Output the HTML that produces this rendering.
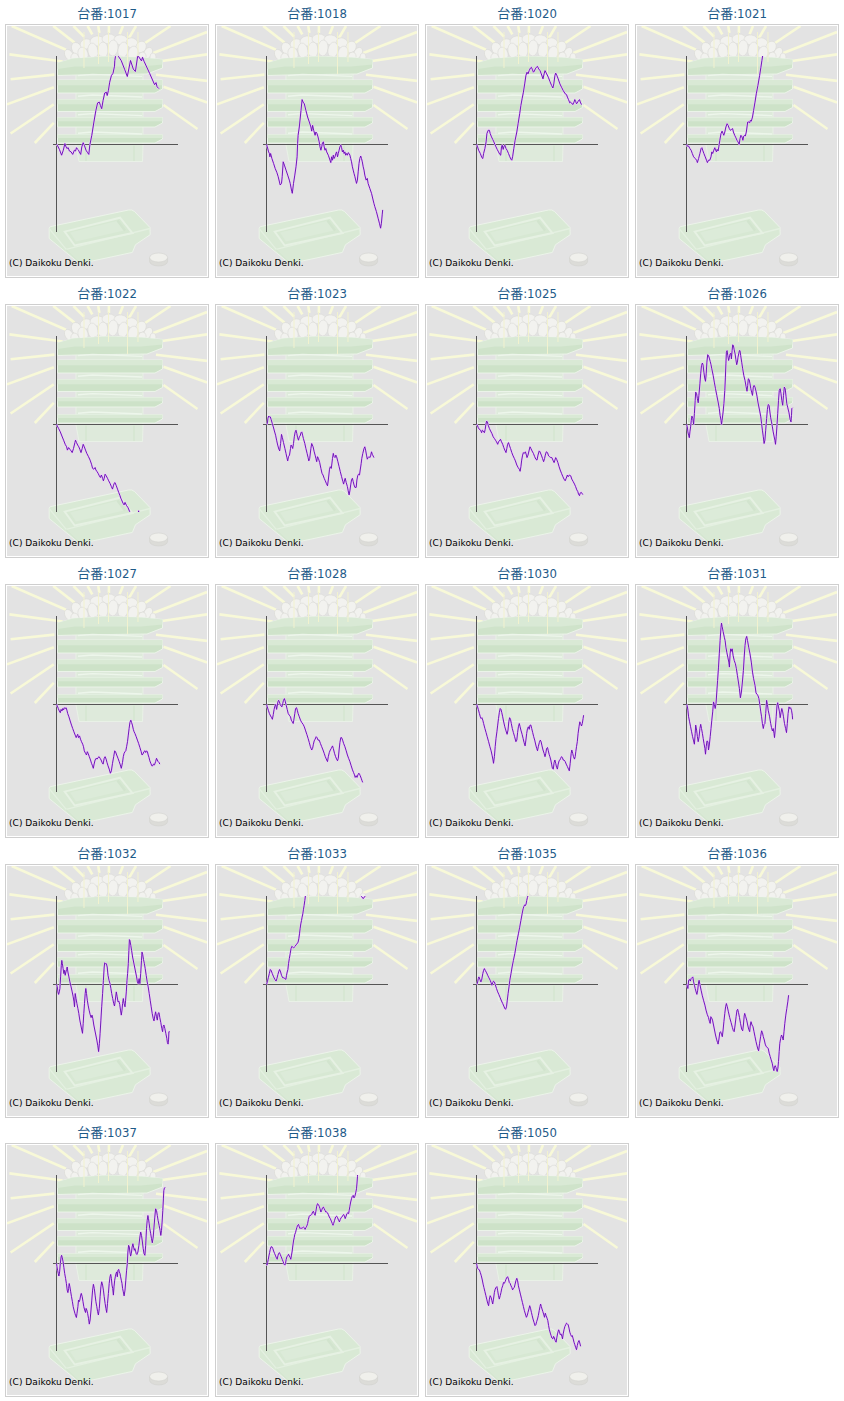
<!DOCTYPE html>
<html><head><meta charset="utf-8"><style>
html,body{margin:0;padding:0;background:#fff;}
body{width:844px;height:1401px;position:relative;overflow:hidden;}
.t{position:absolute;width:210px;text-align:center;font:13px "DejaVu Sans Condensed","Noto Sans CJK JP",sans-serif;color:#1d5a88;line-height:16px;}
.b{position:absolute;width:200px;height:250px;border:1px solid #cfcfcf;padding:1px;background:#fff;}
.b svg{display:block;}
.b polyline{fill:none;stroke-linejoin:round;} .b .l1{stroke:#f0c4ff;stroke-width:1.8;} .b .l2{stroke:#6612b0;stroke-width:0.95;}
.c{position:absolute;left:3px;top:233px;letter-spacing:0.05px;font:9px "DejaVu Sans",sans-serif;color:#000;white-space:nowrap;}
</style></head><body>
<svg width="0" height="0" style="position:absolute"><defs><symbol id="bg" viewBox="0 0 200 250"><rect width="200" height="250" fill="#e3e3e3"/><g stroke="#f8f9d8" stroke-width="2.6" fill="none"><line x1="4.7" y1="0" x2="59" y2="23.7"/><line x1="2.4" y1="28.4" x2="55.7" y2="35.5"/><line x1="3.6" y1="53.3" x2="47.4" y2="48.6"/><line x1="0" y1="78.4" x2="46.8" y2="61.3"/><line x1="3.6" y1="107.5" x2="46.8" y2="78.4"/><line x1="27.8" y1="117" x2="46.8" y2="96.8"/><line x1="46.2" y1="0" x2="67.5" y2="16.6"/><line x1="66.4" y1="0" x2="77" y2="10.7"/><line x1="80.6" y1="0" x2="85.3" y2="8.3"/><line x1="91.2" y1="0" x2="92.4" y2="7"/><line x1="101.9" y1="0" x2="101.9" y2="7"/><line x1="116" y1="0" x2="112.6" y2="8.3"/><line x1="129" y1="0" x2="122" y2="11.8"/><line x1="163.5" y1="0" x2="135" y2="19"/><line x1="200" y1="6" x2="145.7" y2="27.3"/><line x1="200" y1="28.4" x2="151.7" y2="35.5"/><line x1="200" y1="54.9" x2="149" y2="48.7"/><line x1="200" y1="76.5" x2="156.5" y2="60.7"/><line x1="190.5" y1="103" x2="156.5" y2="79"/></g><g fill="#f2f2ef" stroke="#d9d9d5" stroke-width="0.55"><ellipse cx="62" cy="29" rx="4" ry="6" transform="rotate(-30 62 29)"/><ellipse cx="70" cy="23" rx="5" ry="7" transform="rotate(-30 70 23)"/><ellipse cx="79" cy="18" rx="6" ry="5" transform="rotate(-20 79 18)"/><ellipse cx="90" cy="15" rx="7" ry="5" transform="rotate(-10 90 15)"/><ellipse cx="102" cy="13" rx="7" ry="5" transform="rotate(0 102 13)"/><ellipse cx="114" cy="14" rx="7" ry="5" transform="rotate(10 114 14)"/><ellipse cx="125" cy="17" rx="6" ry="5" transform="rotate(20 125 17)"/><ellipse cx="134" cy="21" rx="5" ry="6" transform="rotate(30 134 21)"/><ellipse cx="141" cy="27" rx="4" ry="6" transform="rotate(30 141 27)"/><ellipse cx="146" cy="31" rx="3" ry="4" transform="rotate(0 146 31)"/><ellipse cx="68" cy="32" rx="4" ry="5" transform="rotate(-20 68 32)"/><ellipse cx="76" cy="28" rx="5" ry="7" transform="rotate(-15 76 28)"/><ellipse cx="86" cy="25" rx="5" ry="8" transform="rotate(-10 86 25)"/><ellipse cx="96" cy="24" rx="5" ry="8" transform="rotate(0 96 24)"/><ellipse cx="106" cy="22" rx="5" ry="8" transform="rotate(5 106 22)"/><ellipse cx="116" cy="24" rx="5" ry="8" transform="rotate(10 116 24)"/><ellipse cx="126" cy="27" rx="5" ry="7" transform="rotate(15 126 27)"/><ellipse cx="135" cy="31" rx="4" ry="5" transform="rotate(20 135 31)"/><ellipse cx="92" cy="33" rx="6" ry="3" transform="rotate(0 92 33)"/><ellipse cx="112" cy="33" rx="6" ry="3" transform="rotate(0 112 33)"/></g><path d="M69 36 L136 36 L136 119 L135.5 135.5 L72 135.5 L69 119 Z" fill="#deeadb" stroke="#ebf4e9" stroke-width="0.8"/><path d="M79 119.5 V135 M127 119.5 V135" stroke="#d7e7d3" stroke-width="2"/><path d="M50.5 37 L66 32.5 L100 30.5 L134 31.5 L155.5 33.5 L155.5 42 L140 48 L68 49 L50.5 49.5 Z" fill="#cfe3ca" stroke="#edf5eb" stroke-width="0.9"/><path d="M50.5 37 L66 32.5 L100 30.5 L134 31.5 L155.5 33.5 L155.5 38.5 L134 40.5 L68 40.5 L50.5 43 Z" fill="#d9e9d5"/><path d="M50.5 54 L155.5 54 L155.5 63 L148 67 L50.5 67 Z" fill="#cde2c8" stroke="#edf5eb" stroke-width="0.9"/><path d="M50.5 54 H155.5 V59.2 H50.5 Z" fill="#d9e9d5"/><path d="M50.5 73.5 L155.5 73.5 L155.5 81.5 L148 85.5 L50.5 85.5 Z" fill="#cde2c8" stroke="#edf5eb" stroke-width="0.9"/><path d="M50.5 73.5 H155.5 V78.3 H50.5 Z" fill="#d9e9d5"/><path d="M50.5 91.5 L155.5 91.5 L155.5 97 L148 101 L50.5 101 Z" fill="#cde2c8" stroke="#edf5eb" stroke-width="0.9"/><path d="M50.5 91.5 H155.5 V95.3 H50.5 Z" fill="#d9e9d5"/><path d="M50.5 108.8 L155.5 108.8 L155.5 113 L148 117 L50.5 117 Z" fill="#cde2c8" stroke="#edf5eb" stroke-width="0.9"/><path d="M50.5 108.8 H155.5 V112.1 H50.5 Z" fill="#d9e9d5"/><path d="M71 49.6 L85.5 48.4 L135 50.4" stroke="#edf6eb" stroke-width="1.4" fill="none"/><path d="M71 70.2 L85.5 69.0 L135 71.0" stroke="#edf6eb" stroke-width="1.4" fill="none"/><path d="M71 88.8 L85.5 87.6 L135 89.6" stroke="#edf6eb" stroke-width="1.4" fill="none"/><path d="M71 107.2 L85.5 106.0 L135 108.0" stroke="#edf6eb" stroke-width="1.4" fill="none"/><g stroke="#f2f2cf" stroke-width="1"><line x1="77" y1="6" x2="77" y2="42"/><line x1="91.5" y1="6" x2="91.5" y2="38"/><line x1="101.5" y1="6" x2="101.5" y2="36"/><line x1="120.5" y1="6" x2="120.5" y2="48"/><line x1="131" y1="6" x2="131" y2="36"/></g><path d="M42.2 202.5 Q42 201 44 200.5 L121.5 184 Q125 183.2 127.5 185.5 L143 201.5 L143.2 208.7 L128.5 218.7 L125.4 226.4 L75 237.2 Q72 237.8 70 235.5 L42.2 212.5 Z" fill="#d9e9d5" stroke="#edf5eb" stroke-width="0.9"/><path d="M42.5 203 L59.2 223.3 L143 202.5" stroke="#e4f0e1" stroke-width="1.3" fill="none"/><path d="M59.2 223.8 L73 237" stroke="#d3e5cf" stroke-width="1" fill="none"/><path d="M57.7 205.6 L113.1 191.7 L125.4 207.1 L67.7 219.5 Z" fill="#d7e8d3" stroke="#e6f1e3" stroke-width="2"/><path d="M63 206.5 L110 195 L117 204.5 L69 215.5 Z" fill="#dcebd9"/><path d="M110.5 194.5 L118 204.5" stroke="#d2e4ce" stroke-width="2.5"/><path d="M142.6 231.5 L142.6 235.5 A9 4.5 0 0 0 160.6 235.5 L160.6 231.5 Z" fill="#dcdcd8" stroke="#d2d2ce" stroke-width="0.6"/><ellipse cx="151.6" cy="231.5" rx="9" ry="4.5" fill="#f0f0ec" stroke="#d2d2ce" stroke-width="0.6"/><path d="M49.5 30 V206 M46 118.5 H171" stroke="#555" stroke-width="1" fill="none"/></symbol><clipPath id="cp"><rect x="0" y="30" width="200" height="176"/></clipPath></defs></svg>
<div class="t" style="left:2px;top:6px">台番:1017</div>
<div class="b" style="left:5px;top:24px"><svg width="200" height="250"><use href="#bg"/><g clip-path="url(#cp)"><polyline class="l1" points="49.5,118.5 50.3,119.2 52.4,123.4 54.6,129.2 56.3,124.2 57.9,117.6 59.1,120.9 59.9,122.5 61.2,121.7 62.4,125.0 64.1,125.9 65.7,128.4 67.4,124.2 68.5,125.0 69.5,121.7 70.7,123.4 71.5,124.2 72.3,125.9 73.7,128.4 74.8,120.9 76.2,116.7 77.3,119.2 79.0,124.2 80.6,126.7 81.8,128.4 82.8,119.2 84.8,109.3 86.9,96.0 88.9,84.4 90.6,76.9 92.3,76.1 93.4,79.4 94.7,82.7 96.1,74.4 97.7,67.0 99.4,66.2 100.2,69.5 101.4,64.5 102.7,56.2 104.4,49.6 106,47.3 107.5,40.2 107.8,34.5 108.5,30.3 110,22 111.4,30.3 114.2,34.5 117.8,43.8 120.3,50.5 123.5,34.5 126.3,43.1 128.4,45.5 130.6,30.6 131,27 131.6,30.6 134.5,34.9 135.5,31.3 137,35.2 142.6,47.3 147.6,58.7 149,56.6 150.1,60.8 151.9,62.6"/><polyline class="l2" points="49.5,118.5 50.3,119.2 52.4,123.4 54.6,129.2 56.3,124.2 57.9,117.6 59.1,120.9 59.9,122.5 61.2,121.7 62.4,125.0 64.1,125.9 65.7,128.4 67.4,124.2 68.5,125.0 69.5,121.7 70.7,123.4 71.5,124.2 72.3,125.9 73.7,128.4 74.8,120.9 76.2,116.7 77.3,119.2 79.0,124.2 80.6,126.7 81.8,128.4 82.8,119.2 84.8,109.3 86.9,96.0 88.9,84.4 90.6,76.9 92.3,76.1 93.4,79.4 94.7,82.7 96.1,74.4 97.7,67.0 99.4,66.2 100.2,69.5 101.4,64.5 102.7,56.2 104.4,49.6 106,47.3 107.5,40.2 107.8,34.5 108.5,30.3 110,22 111.4,30.3 114.2,34.5 117.8,43.8 120.3,50.5 123.5,34.5 126.3,43.1 128.4,45.5 130.6,30.6 131,27 131.6,30.6 134.5,34.9 135.5,31.3 137,35.2 142.6,47.3 147.6,58.7 149,56.6 150.1,60.8 151.9,62.6"/></g></svg><span class="c">(C) Daikoku Denki.</span></div><div class="t" style="left:212px;top:6px">台番:1018</div>
<div class="b" style="left:215px;top:24px"><svg width="200" height="250"><use href="#bg"/><g clip-path="url(#cp)"><polyline class="l1" points="49.5,118.5 50.3,120.9 51.6,125.9 52.4,127.5 52.9,130.8 53.6,127.5 54.9,132.5 56.6,137.5 58.2,142.5 59.9,146.6 61.2,150.7 63.2,159.0 64.5,157.4 65.2,150.7 66.2,135.8 67.4,139.1 69.0,144.1 70.7,149.1 72.3,154.1 73.2,157.4 74.8,165.7 75.3,167.3 76.5,157.4 77.8,149.1 79.0,140.8 80.1,130.8 80.6,117.6 81.1,109.3 82.3,101.0 84.0,84.4 85.1,73.6 86.1,76.1 87.3,77.8 88.9,84.4 90.6,91.0 92.3,96.0 93.9,101.0 94.7,105.1 95.6,99.3 96.7,104.3 98.1,109.3 98.9,106.0 100.0,107.6 101.0,110.9 102.2,115.9 103.0,120.9 103.9,124.2 104.7,120.9 105.5,116.7 106.4,115.9 107.2,120.9 108.0,124.2 108.8,122.5 109.7,125.9 111.3,129.2 113.0,134.2 113.8,136.6 114.6,130.8 115.5,134.2 116.3,129.2 117.1,132.5 118.0,130.8 118.8,127.5 119.6,125.9 120.5,130.8 121.3,127.5 122.1,124.2 122.9,120.9 123.8,119.2 124.6,121.7 125.4,125.9 126.3,124.2 127.1,127.5 127.9,125.9 128.7,129.2 129.6,127.5 130.4,129.2 131.2,126.7 132.1,127.5 132.9,129.2 133.7,132.5 134.5,135.8 135.4,140.8 136.2,144.1 137.0,147.4 137.9,150.7 139.5,157.4 140.4,154.1 141.2,145.8 142.0,137.5 142.8,132.5 143.7,130.0 144.5,132.5 145.3,135.8 146.2,140.8 147.0,144.1 147.8,149.1 149.1,154.1 150.3,152.4 151.1,157.4 152.8,162.4 154.5,167.3 156.1,174.0 156.9,177.3 157.8,180.6 159.4,185.6 161.1,192.2 162.4,197.2 163.6,202.2 164.4,197.2 165.2,188.9 165.7,183.9"/><polyline class="l2" points="49.5,118.5 50.3,120.9 51.6,125.9 52.4,127.5 52.9,130.8 53.6,127.5 54.9,132.5 56.6,137.5 58.2,142.5 59.9,146.6 61.2,150.7 63.2,159.0 64.5,157.4 65.2,150.7 66.2,135.8 67.4,139.1 69.0,144.1 70.7,149.1 72.3,154.1 73.2,157.4 74.8,165.7 75.3,167.3 76.5,157.4 77.8,149.1 79.0,140.8 80.1,130.8 80.6,117.6 81.1,109.3 82.3,101.0 84.0,84.4 85.1,73.6 86.1,76.1 87.3,77.8 88.9,84.4 90.6,91.0 92.3,96.0 93.9,101.0 94.7,105.1 95.6,99.3 96.7,104.3 98.1,109.3 98.9,106.0 100.0,107.6 101.0,110.9 102.2,115.9 103.0,120.9 103.9,124.2 104.7,120.9 105.5,116.7 106.4,115.9 107.2,120.9 108.0,124.2 108.8,122.5 109.7,125.9 111.3,129.2 113.0,134.2 113.8,136.6 114.6,130.8 115.5,134.2 116.3,129.2 117.1,132.5 118.0,130.8 118.8,127.5 119.6,125.9 120.5,130.8 121.3,127.5 122.1,124.2 122.9,120.9 123.8,119.2 124.6,121.7 125.4,125.9 126.3,124.2 127.1,127.5 127.9,125.9 128.7,129.2 129.6,127.5 130.4,129.2 131.2,126.7 132.1,127.5 132.9,129.2 133.7,132.5 134.5,135.8 135.4,140.8 136.2,144.1 137.0,147.4 137.9,150.7 139.5,157.4 140.4,154.1 141.2,145.8 142.0,137.5 142.8,132.5 143.7,130.0 144.5,132.5 145.3,135.8 146.2,140.8 147.0,144.1 147.8,149.1 149.1,154.1 150.3,152.4 151.1,157.4 152.8,162.4 154.5,167.3 156.1,174.0 156.9,177.3 157.8,180.6 159.4,185.6 161.1,192.2 162.4,197.2 163.6,202.2 164.4,197.2 165.2,188.9 165.7,183.9"/></g></svg><span class="c">(C) Daikoku Denki.</span></div><div class="t" style="left:422px;top:6px">台番:1020</div>
<div class="b" style="left:425px;top:24px"><svg width="200" height="250"><use href="#bg"/><g clip-path="url(#cp)"><polyline class="l1" points="49.5,118.5 50.3,120.1 51.6,124.2 53.3,127.5 54.9,131.7 55.8,132.5 56.6,127.5 57.9,122.5 59.1,115.9 59.9,107.6 61.2,104.3 62.4,104.3 63.2,107.6 64.5,110.9 65.7,113.4 66.9,115.9 67.9,118.4 69.0,120.9 70.2,123.4 71.5,125.9 72.8,128.4 73.7,129.2 74.5,120.9 75.2,119.2 76.2,123.4 76.8,120.9 77.8,119.2 79.0,122.5 80.1,124.2 81.5,127.5 82.8,130.8 84.0,133.3 84.8,134.2 85.6,130.8 86.8,122.5 88.1,114.3 89.8,106.0 91.1,97.7 92.7,87.7 93.9,79.4 95.1,72.8 96.4,66.2 97.7,57.9 98.9,49.6 100.0,46.2 101.0,47.9 102.2,44.6 103.4,42.1 104.4,41.3 105.5,43.8 106.4,46.2 107.2,45.4 108.3,42.9 109.3,41.3 110.5,40.4 111.7,42.9 113.0,44.6 114.3,47.9 116.0,52.9 117.1,47.9 118.0,44.6 119.3,47.1 121.3,51.2 122.9,55.4 124.6,59.5 125.9,62.0 126.8,57.9 127.9,49.6 128.7,47.1 129.9,49.6 131.2,52.9 132.9,57.9 134.5,61.2 136.2,64.5 138.2,67.8 139.5,68.6 140.4,71.1 141.5,73.6 142.8,76.9 143.7,76.1 144.5,76.9 145.8,78.6 147.0,76.1 147.8,73.6 148.6,75.3 149.5,77.8 150.3,76.9 151.1,75.3 152.5,73.6 153.3,76.1 154.5,78.6"/><polyline class="l2" points="49.5,118.5 50.3,120.1 51.6,124.2 53.3,127.5 54.9,131.7 55.8,132.5 56.6,127.5 57.9,122.5 59.1,115.9 59.9,107.6 61.2,104.3 62.4,104.3 63.2,107.6 64.5,110.9 65.7,113.4 66.9,115.9 67.9,118.4 69.0,120.9 70.2,123.4 71.5,125.9 72.8,128.4 73.7,129.2 74.5,120.9 75.2,119.2 76.2,123.4 76.8,120.9 77.8,119.2 79.0,122.5 80.1,124.2 81.5,127.5 82.8,130.8 84.0,133.3 84.8,134.2 85.6,130.8 86.8,122.5 88.1,114.3 89.8,106.0 91.1,97.7 92.7,87.7 93.9,79.4 95.1,72.8 96.4,66.2 97.7,57.9 98.9,49.6 100.0,46.2 101.0,47.9 102.2,44.6 103.4,42.1 104.4,41.3 105.5,43.8 106.4,46.2 107.2,45.4 108.3,42.9 109.3,41.3 110.5,40.4 111.7,42.9 113.0,44.6 114.3,47.9 116.0,52.9 117.1,47.9 118.0,44.6 119.3,47.1 121.3,51.2 122.9,55.4 124.6,59.5 125.9,62.0 126.8,57.9 127.9,49.6 128.7,47.1 129.9,49.6 131.2,52.9 132.9,57.9 134.5,61.2 136.2,64.5 138.2,67.8 139.5,68.6 140.4,71.1 141.5,73.6 142.8,76.9 143.7,76.1 144.5,76.9 145.8,78.6 147.0,76.1 147.8,73.6 148.6,75.3 149.5,77.8 150.3,76.9 151.1,75.3 152.5,73.6 153.3,76.1 154.5,78.6"/></g></svg><span class="c">(C) Daikoku Denki.</span></div><div class="t" style="left:632px;top:6px">台番:1021</div>
<div class="b" style="left:635px;top:24px"><svg width="200" height="250"><use href="#bg"/><g clip-path="url(#cp)"><polyline class="l1" points="49.5,118.5 50.3,120.1 51.6,120.1 52.9,122.5 54.1,124.2 55.3,127.5 56.6,130.8 58.2,132.5 59.6,134.2 60.4,136.6 61.6,132.5 62.9,127.5 64.1,122.5 64.9,121.7 65.7,124.2 66.9,127.5 68.2,130.8 69.5,134.2 70.4,136.6 71.5,134.2 72.8,134.2 74.0,130.8 74.8,125.9 75.7,127.5 76.8,124.2 77.8,121.7 78.6,124.2 79.5,125.9 80.1,123.4 81.1,125.0 81.8,120.9 82.8,114.3 84.0,107.6 85.1,105.1 86.1,107.6 86.8,109.3 87.8,106.0 88.9,101.0 90.1,97.7 91.1,99.3 92.3,102.6 93.4,104.3 94.4,103.5 95.6,102.6 96.4,106.0 97.7,109.3 98.9,111.8 100.0,114.3 101.0,115.9 102.2,118.4 103.0,112.6 103.9,109.3 105.0,110.9 105.9,114.3 106.7,110.1 107.7,109.3 108.3,110.1 109.3,106.0 110.0,101.0 110.7,96.0 111.7,96.0 112.7,96.8 113.3,94.4 114.3,95.2 115.5,91.0 116.6,84.4 118.0,76.1 119.3,67.8 120.9,59.5 122.6,49.6 123.9,41.3 124.9,34.6 125.6,30.0 126.3,21.4"/><polyline class="l2" points="49.5,118.5 50.3,120.1 51.6,120.1 52.9,122.5 54.1,124.2 55.3,127.5 56.6,130.8 58.2,132.5 59.6,134.2 60.4,136.6 61.6,132.5 62.9,127.5 64.1,122.5 64.9,121.7 65.7,124.2 66.9,127.5 68.2,130.8 69.5,134.2 70.4,136.6 71.5,134.2 72.8,134.2 74.0,130.8 74.8,125.9 75.7,127.5 76.8,124.2 77.8,121.7 78.6,124.2 79.5,125.9 80.1,123.4 81.1,125.0 81.8,120.9 82.8,114.3 84.0,107.6 85.1,105.1 86.1,107.6 86.8,109.3 87.8,106.0 88.9,101.0 90.1,97.7 91.1,99.3 92.3,102.6 93.4,104.3 94.4,103.5 95.6,102.6 96.4,106.0 97.7,109.3 98.9,111.8 100.0,114.3 101.0,115.9 102.2,118.4 103.0,112.6 103.9,109.3 105.0,110.9 105.9,114.3 106.7,110.1 107.7,109.3 108.3,110.1 109.3,106.0 110.0,101.0 110.7,96.0 111.7,96.0 112.7,96.8 113.3,94.4 114.3,95.2 115.5,91.0 116.6,84.4 118.0,76.1 119.3,67.8 120.9,59.5 122.6,49.6 123.9,41.3 124.9,34.6 125.6,30.0 126.3,21.4"/></g></svg><span class="c">(C) Daikoku Denki.</span></div><div class="t" style="left:2px;top:286px">台番:1022</div>
<div class="b" style="left:5px;top:304px"><svg width="200" height="250"><use href="#bg"/><g clip-path="url(#cp)"><polyline class="l1" points="49.5,118.5 50.3,120.1 51.6,122.5 53.3,125.9 54.9,130.0 56.6,134.2 58.2,138.3 59.6,140.8 60.4,144.1 61.6,141.6 62.9,143.3 64.1,144.9 65.2,146.6 66.5,142.5 67.9,136.6 68.5,134.2 69.5,136.6 70.7,139.1 71.8,140.8 72.8,143.3 74.0,146.6 75.2,142.5 76.2,138.3 77.3,140.8 78.5,144.1 79.8,147.4 81.5,150.7 83.1,154.1 84.5,158.2 85.6,162.4 86.8,163.2 88.1,161.5 88.9,164.0 90.1,165.7 91.1,167.3 92.3,169.8 93.4,171.5 94.4,169.0 95.6,172.3 96.4,174.8 97.2,172.3 98.1,168.2 99.2,169.8 100.5,172.3 101.7,174.8 103.0,177.3 104.4,180.6 105.5,183.1 106.4,179.8 107.2,177.3 108.0,176.5 109.3,179.8 110.5,183.1 111.7,186.4 113.0,189.7 113.8,192.2 114.6,193.9 116.0,197.2 117.1,198.9 118.0,196.4 118.8,198.0 119.6,199.7 120.8,201.3 121.6,203.0 122.6,205.5 124.6,212.1 127.1,213.8 130.9,208.8 131.6,204.8 132.2,208.8 133.7,213.8"/><polyline class="l2" points="49.5,118.5 50.3,120.1 51.6,122.5 53.3,125.9 54.9,130.0 56.6,134.2 58.2,138.3 59.6,140.8 60.4,144.1 61.6,141.6 62.9,143.3 64.1,144.9 65.2,146.6 66.5,142.5 67.9,136.6 68.5,134.2 69.5,136.6 70.7,139.1 71.8,140.8 72.8,143.3 74.0,146.6 75.2,142.5 76.2,138.3 77.3,140.8 78.5,144.1 79.8,147.4 81.5,150.7 83.1,154.1 84.5,158.2 85.6,162.4 86.8,163.2 88.1,161.5 88.9,164.0 90.1,165.7 91.1,167.3 92.3,169.8 93.4,171.5 94.4,169.0 95.6,172.3 96.4,174.8 97.2,172.3 98.1,168.2 99.2,169.8 100.5,172.3 101.7,174.8 103.0,177.3 104.4,180.6 105.5,183.1 106.4,179.8 107.2,177.3 108.0,176.5 109.3,179.8 110.5,183.1 111.7,186.4 113.0,189.7 113.8,192.2 114.6,193.9 116.0,197.2 117.1,198.9 118.0,196.4 118.8,198.0 119.6,199.7 120.8,201.3 121.6,203.0 122.6,205.5 124.6,212.1 127.1,213.8 130.9,208.8 131.6,204.8 132.2,208.8 133.7,213.8"/></g></svg><span class="c">(C) Daikoku Denki.</span></div><div class="t" style="left:212px;top:286px">台番:1023</div>
<div class="b" style="left:215px;top:304px"><svg width="200" height="250"><use href="#bg"/><g clip-path="url(#cp)"><polyline class="l1" points="49.5,118.5 50.3,117.6 50.9,112.6 51.6,110.1 52.4,110.9 53.3,110.9 54.1,113.4 55.3,117.6 56.3,120.9 57.4,125.0 58.6,129.2 59.6,134.2 60.7,139.1 61.9,143.3 62.7,144.9 63.6,137.5 64.5,128.4 65.4,131.7 66.5,136.6 67.9,142.5 69.0,147.4 69.9,151.6 70.7,154.9 71.5,150.7 72.5,149.1 73.5,142.5 74.0,139.1 74.8,140.0 75.7,142.5 76.5,137.5 77.3,130.8 78.2,125.9 79.0,124.2 79.8,127.5 80.6,131.7 81.5,134.2 82.3,130.8 83.1,130.0 84.0,126.7 84.8,125.9 85.6,129.2 86.4,132.5 87.8,137.5 88.9,142.5 90.1,147.4 91.1,151.6 91.8,154.9 92.7,152.4 93.9,142.5 94.7,137.5 96.1,140.8 97.2,145.8 98.1,149.1 98.9,152.4 99.7,155.7 100.5,150.7 101.4,152.4 102.7,156.6 103.9,162.4 105.0,167.3 106.0,169.0 107.2,172.3 108.3,174.8 109.3,177.3 110.5,179.8 111.3,174.0 112.5,163.2 113.3,160.7 114.3,162.4 115.5,152.4 116.3,147.4 117.1,150.7 118.0,151.6 118.8,149.1 119.6,150.7 120.9,155.7 122.1,160.7 123.3,165.7 124.6,170.7 125.9,175.6 126.6,178.1 127.6,174.0 128.2,172.3 129.2,176.5 130.4,180.6 131.2,184.8 132.1,188.9 132.9,184.8 133.7,178.9 134.5,174.0 135.4,172.3 136.2,175.6 137.0,178.9 137.9,181.4 139.2,181.4 139.9,174.0 140.7,169.8 141.5,168.2 142.5,169.0 143.2,164.0 144.2,157.4 144.8,152.4 145.8,147.4 147.0,142.5 147.8,140.8 148.6,144.1 149.5,149.1 150.3,153.2 151.1,151.6 152.0,150.7 152.8,151.6 153.6,149.9 154.5,145.8 155.3,148.3 156.1,149.9 156.9,151.6"/><polyline class="l2" points="49.5,118.5 50.3,117.6 50.9,112.6 51.6,110.1 52.4,110.9 53.3,110.9 54.1,113.4 55.3,117.6 56.3,120.9 57.4,125.0 58.6,129.2 59.6,134.2 60.7,139.1 61.9,143.3 62.7,144.9 63.6,137.5 64.5,128.4 65.4,131.7 66.5,136.6 67.9,142.5 69.0,147.4 69.9,151.6 70.7,154.9 71.5,150.7 72.5,149.1 73.5,142.5 74.0,139.1 74.8,140.0 75.7,142.5 76.5,137.5 77.3,130.8 78.2,125.9 79.0,124.2 79.8,127.5 80.6,131.7 81.5,134.2 82.3,130.8 83.1,130.0 84.0,126.7 84.8,125.9 85.6,129.2 86.4,132.5 87.8,137.5 88.9,142.5 90.1,147.4 91.1,151.6 91.8,154.9 92.7,152.4 93.9,142.5 94.7,137.5 96.1,140.8 97.2,145.8 98.1,149.1 98.9,152.4 99.7,155.7 100.5,150.7 101.4,152.4 102.7,156.6 103.9,162.4 105.0,167.3 106.0,169.0 107.2,172.3 108.3,174.8 109.3,177.3 110.5,179.8 111.3,174.0 112.5,163.2 113.3,160.7 114.3,162.4 115.5,152.4 116.3,147.4 117.1,150.7 118.0,151.6 118.8,149.1 119.6,150.7 120.9,155.7 122.1,160.7 123.3,165.7 124.6,170.7 125.9,175.6 126.6,178.1 127.6,174.0 128.2,172.3 129.2,176.5 130.4,180.6 131.2,184.8 132.1,188.9 132.9,184.8 133.7,178.9 134.5,174.0 135.4,172.3 136.2,175.6 137.0,178.9 137.9,181.4 139.2,181.4 139.9,174.0 140.7,169.8 141.5,168.2 142.5,169.0 143.2,164.0 144.2,157.4 144.8,152.4 145.8,147.4 147.0,142.5 147.8,140.8 148.6,144.1 149.5,149.1 150.3,153.2 151.1,151.6 152.0,150.7 152.8,151.6 153.6,149.9 154.5,145.8 155.3,148.3 156.1,149.9 156.9,151.6"/></g></svg><span class="c">(C) Daikoku Denki.</span></div><div class="t" style="left:422px;top:286px">台番:1025</div>
<div class="b" style="left:425px;top:304px"><svg width="200" height="250"><use href="#bg"/><g clip-path="url(#cp)"><polyline class="l1" points="49.5,118.5 50.3,119.2 51.3,121.7 52.4,123.4 53.6,124.2 54.6,126.7 55.4,124.2 56.3,125.0 57.4,126.7 58.2,123.4 58.9,118.4 59.6,115.1 60.4,115.9 61.2,119.2 62.4,122.5 63.6,125.0 64.9,127.5 66.2,130.8 67.4,132.5 68.5,134.2 69.5,135.8 70.7,138.3 71.5,135.8 72.3,135.0 73.5,133.3 74.5,135.8 75.7,138.3 76.8,141.6 77.8,144.1 79.0,146.6 79.8,142.5 80.6,138.3 81.5,136.6 82.3,139.1 83.5,142.5 84.8,146.6 86.1,149.9 87.3,152.4 88.4,154.9 89.8,159.0 91.1,161.5 92.3,163.2 93.1,165.3 93.9,160.7 94.7,154.1 95.6,149.1 96.4,146.6 97.2,147.4 98.4,145.8 99.4,149.1 100.0,151.6 101.0,149.1 102.2,144.1 103.0,140.8 103.9,142.5 105.0,144.9 106.4,147.4 107.7,150.7 108.8,153.2 110.0,154.1 111.0,149.1 112.2,144.9 113.0,145.8 114.3,149.1 115.5,152.4 116.6,155.7 117.6,152.4 118.3,149.1 119.3,145.8 120.5,146.6 121.6,149.9 122.6,150.7 123.8,151.6 124.9,151.6 125.9,154.1 127.1,156.6 127.9,154.1 128.7,151.6 129.6,153.2 130.9,156.6 132.1,160.7 133.2,164.0 134.5,167.3 135.9,170.7 137.0,173.1 138.2,174.8 139.2,172.3 140.4,169.0 141.2,170.7 142.5,169.0 143.7,169.8 144.8,173.1 146.2,175.6 147.5,178.1 148.6,180.6 149.8,183.9 150.8,185.6 151.5,188.1 152.5,189.7 153.1,187.2 154.1,186.4 155.0,187.2 155.8,188.6"/><polyline class="l2" points="49.5,118.5 50.3,119.2 51.3,121.7 52.4,123.4 53.6,124.2 54.6,126.7 55.4,124.2 56.3,125.0 57.4,126.7 58.2,123.4 58.9,118.4 59.6,115.1 60.4,115.9 61.2,119.2 62.4,122.5 63.6,125.0 64.9,127.5 66.2,130.8 67.4,132.5 68.5,134.2 69.5,135.8 70.7,138.3 71.5,135.8 72.3,135.0 73.5,133.3 74.5,135.8 75.7,138.3 76.8,141.6 77.8,144.1 79.0,146.6 79.8,142.5 80.6,138.3 81.5,136.6 82.3,139.1 83.5,142.5 84.8,146.6 86.1,149.9 87.3,152.4 88.4,154.9 89.8,159.0 91.1,161.5 92.3,163.2 93.1,165.3 93.9,160.7 94.7,154.1 95.6,149.1 96.4,146.6 97.2,147.4 98.4,145.8 99.4,149.1 100.0,151.6 101.0,149.1 102.2,144.1 103.0,140.8 103.9,142.5 105.0,144.9 106.4,147.4 107.7,150.7 108.8,153.2 110.0,154.1 111.0,149.1 112.2,144.9 113.0,145.8 114.3,149.1 115.5,152.4 116.6,155.7 117.6,152.4 118.3,149.1 119.3,145.8 120.5,146.6 121.6,149.9 122.6,150.7 123.8,151.6 124.9,151.6 125.9,154.1 127.1,156.6 127.9,154.1 128.7,151.6 129.6,153.2 130.9,156.6 132.1,160.7 133.2,164.0 134.5,167.3 135.9,170.7 137.0,173.1 138.2,174.8 139.2,172.3 140.4,169.0 141.2,170.7 142.5,169.0 143.7,169.8 144.8,173.1 146.2,175.6 147.5,178.1 148.6,180.6 149.8,183.9 150.8,185.6 151.5,188.1 152.5,189.7 153.1,187.2 154.1,186.4 155.0,187.2 155.8,188.6"/></g></svg><span class="c">(C) Daikoku Denki.</span></div><div class="t" style="left:632px;top:286px">台番:1026</div>
<div class="b" style="left:635px;top:304px"><svg width="200" height="250"><use href="#bg"/><g clip-path="url(#cp)"><polyline class="l1" points="49.5,118.5 50.3,120.9 50.9,125.9 51.6,129.2 52.3,131.7 52.9,125.9 53.6,120.9 54.3,114.3 54.9,110.1 55.8,112.6 56.6,118.4 57.4,107.6 58.2,94.4 58.7,86.1 59.6,87.7 60.4,92.7 61.2,96.8 61.9,89.4 62.9,77.8 63.7,67.8 64.5,59.5 65.4,57.0 66.0,58.7 66.9,66.2 67.7,72.0 68.5,75.3 69.2,67.8 69.9,56.2 70.7,48.7 71.5,49.6 72.3,52.1 73.2,55.4 74.0,58.7 74.8,62.8 76.2,69.5 77.3,76.1 78.5,82.7 79.8,89.4 81.1,96.0 82.3,102.6 83.1,109.3 84.0,114.3 84.5,118.4 85.1,114.3 86.1,106.0 86.9,97.7 87.8,84.4 88.4,71.1 88.9,57.9 89.4,46.2 90.1,44.6 90.8,49.6 91.6,54.5 92.4,51.2 93.1,47.9 93.9,47.1 94.4,52.9 95.1,44.6 95.7,38.8 96.4,39.6 97.2,43.8 98.1,47.9 98.9,53.7 99.7,58.7 100.4,56.2 101.0,51.2 101.7,47.9 102.4,44.6 103.0,44.6 103.7,49.6 104.7,56.2 105.7,62.8 106.8,69.5 108.0,74.4 109.0,80.3 110.0,85.2 110.7,79.4 111.3,72.8 112.2,73.6 113.0,77.8 113.8,82.7 114.6,86.1 115.5,89.4 116.3,81.1 117.1,79.4 118.0,81.1 119.0,85.2 120.0,90.2 120.9,96.0 121.9,101.0 122.9,106.0 123.8,110.9 124.6,117.6 125.4,124.2 126.3,130.8 127.1,137.5 127.9,134.2 128.7,124.2 129.6,112.6 130.4,103.5 131.2,98.5 132.1,99.3 132.9,106.0 133.7,111.8 134.5,115.9 135.4,120.9 136.2,125.9 137.0,130.0 137.9,134.2 138.5,138.3 139.2,130.8 140.0,119.2 140.7,107.6 141.5,94.4 142.3,84.4 143.2,82.7 144.0,87.7 144.8,94.4 145.7,99.3 146.5,89.4 147.3,81.1 148.2,82.7 149.0,90.2 149.8,97.7 150.8,101.8 152.0,106.8 153.1,113.4 154.0,115.9 154.5,109.3 154.8,102.6 155.6,101.8"/><polyline class="l2" points="49.5,118.5 50.3,120.9 50.9,125.9 51.6,129.2 52.3,131.7 52.9,125.9 53.6,120.9 54.3,114.3 54.9,110.1 55.8,112.6 56.6,118.4 57.4,107.6 58.2,94.4 58.7,86.1 59.6,87.7 60.4,92.7 61.2,96.8 61.9,89.4 62.9,77.8 63.7,67.8 64.5,59.5 65.4,57.0 66.0,58.7 66.9,66.2 67.7,72.0 68.5,75.3 69.2,67.8 69.9,56.2 70.7,48.7 71.5,49.6 72.3,52.1 73.2,55.4 74.0,58.7 74.8,62.8 76.2,69.5 77.3,76.1 78.5,82.7 79.8,89.4 81.1,96.0 82.3,102.6 83.1,109.3 84.0,114.3 84.5,118.4 85.1,114.3 86.1,106.0 86.9,97.7 87.8,84.4 88.4,71.1 88.9,57.9 89.4,46.2 90.1,44.6 90.8,49.6 91.6,54.5 92.4,51.2 93.1,47.9 93.9,47.1 94.4,52.9 95.1,44.6 95.7,38.8 96.4,39.6 97.2,43.8 98.1,47.9 98.9,53.7 99.7,58.7 100.4,56.2 101.0,51.2 101.7,47.9 102.4,44.6 103.0,44.6 103.7,49.6 104.7,56.2 105.7,62.8 106.8,69.5 108.0,74.4 109.0,80.3 110.0,85.2 110.7,79.4 111.3,72.8 112.2,73.6 113.0,77.8 113.8,82.7 114.6,86.1 115.5,89.4 116.3,81.1 117.1,79.4 118.0,81.1 119.0,85.2 120.0,90.2 120.9,96.0 121.9,101.0 122.9,106.0 123.8,110.9 124.6,117.6 125.4,124.2 126.3,130.8 127.1,137.5 127.9,134.2 128.7,124.2 129.6,112.6 130.4,103.5 131.2,98.5 132.1,99.3 132.9,106.0 133.7,111.8 134.5,115.9 135.4,120.9 136.2,125.9 137.0,130.0 137.9,134.2 138.5,138.3 139.2,130.8 140.0,119.2 140.7,107.6 141.5,94.4 142.3,84.4 143.2,82.7 144.0,87.7 144.8,94.4 145.7,99.3 146.5,89.4 147.3,81.1 148.2,82.7 149.0,90.2 149.8,97.7 150.8,101.8 152.0,106.8 153.1,113.4 154.0,115.9 154.5,109.3 154.8,102.6 155.6,101.8"/></g></svg><span class="c">(C) Daikoku Denki.</span></div><div class="t" style="left:2px;top:566px">台番:1027</div>
<div class="b" style="left:5px;top:584px"><svg width="200" height="250"><use href="#bg"/><g clip-path="url(#cp)"><polyline class="l1" points="49.5,118.5 50.3,120.1 51.3,122.5 52.3,125.0 53.3,126.7 54.1,123.4 54.9,125.0 55.8,122.5 56.6,123.9 57.4,121.7 58.2,122.5 59.1,121.7 59.9,124.2 60.7,127.5 61.9,130.8 63.2,135.0 64.5,139.1 65.7,142.5 66.9,145.8 68.2,149.1 69.2,151.6 69.9,149.9 70.7,148.3 71.5,151.6 72.5,149.9 73.5,153.2 74.5,155.7 75.7,158.2 76.5,160.7 77.3,164.8 78.5,167.3 79.5,169.0 80.3,165.7 81.1,167.3 82.3,170.7 83.5,174.0 84.5,177.3 85.5,179.8 86.3,182.3 87.1,178.1 88.1,174.0 89.1,172.3 90.1,173.1 91.1,171.5 92.1,170.7 93.1,172.3 94.1,174.0 95.1,176.5 96.1,178.1 97.2,172.3 98.1,170.7 99.1,173.1 100.0,176.5 101.0,179.8 102.2,183.1 103.4,187.2 104.4,184.8 105.5,177.3 106.7,170.7 107.7,164.8 108.5,165.7 109.7,169.0 111.0,172.3 112.2,175.6 113.3,178.9 114.3,182.3 115.5,176.5 116.3,170.7 117.1,167.3 118.0,165.7 118.8,164.8 119.6,160.7 120.5,155.7 121.3,149.1 122.1,142.5 122.9,136.6 123.8,134.2 124.6,136.6 125.4,139.1 126.3,143.3 127.1,145.8 127.9,147.4 129.2,150.7 130.4,154.1 131.6,157.4 132.9,161.5 134.2,165.7 135.0,169.0 135.9,168.2 136.9,165.7 137.9,164.8 138.7,166.5 139.5,164.8 140.4,165.7 141.2,169.0 142.0,171.5 142.8,174.8 143.8,177.3 144.8,179.8 145.7,179.8 146.5,178.1 147.5,178.9 148.6,175.6 149.5,172.3 150.3,174.0 151.1,175.6 152.0,176.5 152.8,178.1"/><polyline class="l2" points="49.5,118.5 50.3,120.1 51.3,122.5 52.3,125.0 53.3,126.7 54.1,123.4 54.9,125.0 55.8,122.5 56.6,123.9 57.4,121.7 58.2,122.5 59.1,121.7 59.9,124.2 60.7,127.5 61.9,130.8 63.2,135.0 64.5,139.1 65.7,142.5 66.9,145.8 68.2,149.1 69.2,151.6 69.9,149.9 70.7,148.3 71.5,151.6 72.5,149.9 73.5,153.2 74.5,155.7 75.7,158.2 76.5,160.7 77.3,164.8 78.5,167.3 79.5,169.0 80.3,165.7 81.1,167.3 82.3,170.7 83.5,174.0 84.5,177.3 85.5,179.8 86.3,182.3 87.1,178.1 88.1,174.0 89.1,172.3 90.1,173.1 91.1,171.5 92.1,170.7 93.1,172.3 94.1,174.0 95.1,176.5 96.1,178.1 97.2,172.3 98.1,170.7 99.1,173.1 100.0,176.5 101.0,179.8 102.2,183.1 103.4,187.2 104.4,184.8 105.5,177.3 106.7,170.7 107.7,164.8 108.5,165.7 109.7,169.0 111.0,172.3 112.2,175.6 113.3,178.9 114.3,182.3 115.5,176.5 116.3,170.7 117.1,167.3 118.0,165.7 118.8,164.8 119.6,160.7 120.5,155.7 121.3,149.1 122.1,142.5 122.9,136.6 123.8,134.2 124.6,136.6 125.4,139.1 126.3,143.3 127.1,145.8 127.9,147.4 129.2,150.7 130.4,154.1 131.6,157.4 132.9,161.5 134.2,165.7 135.0,169.0 135.9,168.2 136.9,165.7 137.9,164.8 138.7,166.5 139.5,164.8 140.4,165.7 141.2,169.0 142.0,171.5 142.8,174.8 143.8,177.3 144.8,179.8 145.7,179.8 146.5,178.1 147.5,178.9 148.6,175.6 149.5,172.3 150.3,174.0 151.1,175.6 152.0,176.5 152.8,178.1"/></g></svg><span class="c">(C) Daikoku Denki.</span></div><div class="t" style="left:212px;top:566px">台番:1028</div>
<div class="b" style="left:215px;top:584px"><svg width="200" height="250"><use href="#bg"/><g clip-path="url(#cp)"><polyline class="l1" points="49.5,118.5 50.3,120.9 51.3,124.2 52.4,127.5 53.6,130.0 54.6,131.7 55.4,133.3 56.3,128.4 57.1,123.4 57.9,120.1 58.7,118.4 59.6,123.4 60.2,120.1 60.9,115.9 61.6,114.3 62.4,115.9 63.2,118.4 64.1,120.1 64.9,120.9 65.7,117.6 66.5,114.3 67.4,112.6 68.2,115.1 69.2,119.2 70.2,123.4 71.2,127.5 72.3,129.2 73.5,130.8 74.3,134.2 75.3,135.8 76.2,137.5 76.8,134.2 77.8,127.5 78.6,122.5 79.5,121.7 80.3,124.2 81.1,127.5 82.3,130.8 83.5,134.2 84.8,136.6 86.1,138.3 87.3,140.8 88.4,144.1 89.8,148.3 91.1,152.4 92.3,156.6 93.4,160.7 94.7,164.0 95.6,162.4 96.4,158.2 97.2,154.9 98.1,153.2 99.2,150.7 100.0,151.6 101.0,154.1 102.2,154.1 103.4,157.4 104.7,160.7 106.0,164.0 107.2,167.3 108.3,170.7 109.7,174.0 110.5,175.6 111.3,170.7 112.3,166.5 113.3,164.0 114.3,162.4 115.5,159.9 116.3,162.4 117.5,167.3 118.6,170.7 119.6,173.1 120.5,174.8 121.3,172.3 122.1,164.0 122.9,156.6 123.8,151.6 124.6,151.6 125.6,154.1 126.6,157.4 127.9,160.7 129.2,164.8 130.4,169.0 131.6,172.3 132.9,175.6 134.2,179.8 135.5,183.9 136.5,186.4 137.5,188.9 138.2,191.4 139.2,189.7 140.0,191.4 140.9,188.9 141.8,187.2 142.5,188.1 143.2,189.7 144.2,192.2 145.0,194.7 145.7,196.4"/><polyline class="l2" points="49.5,118.5 50.3,120.9 51.3,124.2 52.4,127.5 53.6,130.0 54.6,131.7 55.4,133.3 56.3,128.4 57.1,123.4 57.9,120.1 58.7,118.4 59.6,123.4 60.2,120.1 60.9,115.9 61.6,114.3 62.4,115.9 63.2,118.4 64.1,120.1 64.9,120.9 65.7,117.6 66.5,114.3 67.4,112.6 68.2,115.1 69.2,119.2 70.2,123.4 71.2,127.5 72.3,129.2 73.5,130.8 74.3,134.2 75.3,135.8 76.2,137.5 76.8,134.2 77.8,127.5 78.6,122.5 79.5,121.7 80.3,124.2 81.1,127.5 82.3,130.8 83.5,134.2 84.8,136.6 86.1,138.3 87.3,140.8 88.4,144.1 89.8,148.3 91.1,152.4 92.3,156.6 93.4,160.7 94.7,164.0 95.6,162.4 96.4,158.2 97.2,154.9 98.1,153.2 99.2,150.7 100.0,151.6 101.0,154.1 102.2,154.1 103.4,157.4 104.7,160.7 106.0,164.0 107.2,167.3 108.3,170.7 109.7,174.0 110.5,175.6 111.3,170.7 112.3,166.5 113.3,164.0 114.3,162.4 115.5,159.9 116.3,162.4 117.5,167.3 118.6,170.7 119.6,173.1 120.5,174.8 121.3,172.3 122.1,164.0 122.9,156.6 123.8,151.6 124.6,151.6 125.6,154.1 126.6,157.4 127.9,160.7 129.2,164.8 130.4,169.0 131.6,172.3 132.9,175.6 134.2,179.8 135.5,183.9 136.5,186.4 137.5,188.9 138.2,191.4 139.2,189.7 140.0,191.4 140.9,188.9 141.8,187.2 142.5,188.1 143.2,189.7 144.2,192.2 145.0,194.7 145.7,196.4"/></g></svg><span class="c">(C) Daikoku Denki.</span></div><div class="t" style="left:422px;top:566px">台番:1030</div>
<div class="b" style="left:425px;top:584px"><svg width="200" height="250"><use href="#bg"/><g clip-path="url(#cp)"><polyline class="l1" points="49.5,118.5 50.3,120.1 51.3,123.4 52.4,127.5 53.3,130.8 54.1,132.5 54.9,131.7 55.8,134.2 56.6,137.5 57.9,142.5 59.1,146.6 60.2,150.7 61.6,155.7 62.9,160.7 64.1,164.8 65.2,169.8 66.0,174.0 66.5,177.3 67.4,170.7 68.2,160.7 69.0,152.4 69.9,145.8 70.7,139.1 71.5,132.5 72.3,126.7 73.2,122.5 74.0,123.4 74.8,126.7 75.7,130.8 76.5,135.0 77.8,140.8 79.0,144.9 80.1,148.3 81.0,144.1 81.8,135.8 82.6,131.7 83.5,133.3 84.3,137.5 85.3,142.5 86.4,146.6 87.6,150.7 88.9,155.7 89.8,154.1 90.6,146.6 91.4,140.8 92.3,137.5 93.1,140.8 93.9,144.1 95.1,148.3 96.1,152.4 97.1,156.6 98.1,159.9 98.9,154.1 99.7,147.4 100.5,142.5 101.4,140.8 102.2,143.3 103.0,139.1 103.9,139.1 104.7,142.5 105.7,146.6 106.7,150.7 107.7,154.1 108.8,159.0 109.7,162.4 110.5,164.8 111.3,160.7 112.3,156.6 113.3,154.1 114.1,155.7 115.0,159.9 116.0,164.0 117.1,167.3 118.0,170.7 118.8,167.3 119.6,162.4 120.5,161.5 121.3,164.8 122.1,168.2 122.9,170.7 123.8,174.0 124.6,178.1 125.4,182.3 126.3,183.1 127.1,176.5 127.9,174.0 128.7,177.3 129.6,181.4 130.4,183.1 131.2,178.1 132.1,174.8 132.9,174.0 133.7,172.3 134.5,170.7 135.4,171.5 136.2,174.0 137.0,174.0 138.2,175.6 139.2,178.1 140.4,180.6 141.5,183.1 142.3,184.8 143.2,177.3 144.2,167.3 144.8,164.0 145.7,167.3 146.5,170.7 147.5,173.1 148.2,170.7 148.8,165.7 149.5,160.7 150.3,155.7 151.1,147.4 152.0,140.8 152.8,135.8 153.6,137.5 154.5,140.0 155.3,137.5 156.1,132.5 156.6,129.2"/><polyline class="l2" points="49.5,118.5 50.3,120.1 51.3,123.4 52.4,127.5 53.3,130.8 54.1,132.5 54.9,131.7 55.8,134.2 56.6,137.5 57.9,142.5 59.1,146.6 60.2,150.7 61.6,155.7 62.9,160.7 64.1,164.8 65.2,169.8 66.0,174.0 66.5,177.3 67.4,170.7 68.2,160.7 69.0,152.4 69.9,145.8 70.7,139.1 71.5,132.5 72.3,126.7 73.2,122.5 74.0,123.4 74.8,126.7 75.7,130.8 76.5,135.0 77.8,140.8 79.0,144.9 80.1,148.3 81.0,144.1 81.8,135.8 82.6,131.7 83.5,133.3 84.3,137.5 85.3,142.5 86.4,146.6 87.6,150.7 88.9,155.7 89.8,154.1 90.6,146.6 91.4,140.8 92.3,137.5 93.1,140.8 93.9,144.1 95.1,148.3 96.1,152.4 97.1,156.6 98.1,159.9 98.9,154.1 99.7,147.4 100.5,142.5 101.4,140.8 102.2,143.3 103.0,139.1 103.9,139.1 104.7,142.5 105.7,146.6 106.7,150.7 107.7,154.1 108.8,159.0 109.7,162.4 110.5,164.8 111.3,160.7 112.3,156.6 113.3,154.1 114.1,155.7 115.0,159.9 116.0,164.0 117.1,167.3 118.0,170.7 118.8,167.3 119.6,162.4 120.5,161.5 121.3,164.8 122.1,168.2 122.9,170.7 123.8,174.0 124.6,178.1 125.4,182.3 126.3,183.1 127.1,176.5 127.9,174.0 128.7,177.3 129.6,181.4 130.4,183.1 131.2,178.1 132.1,174.8 132.9,174.0 133.7,172.3 134.5,170.7 135.4,171.5 136.2,174.0 137.0,174.0 138.2,175.6 139.2,178.1 140.4,180.6 141.5,183.1 142.3,184.8 143.2,177.3 144.2,167.3 144.8,164.0 145.7,167.3 146.5,170.7 147.5,173.1 148.2,170.7 148.8,165.7 149.5,160.7 150.3,155.7 151.1,147.4 152.0,140.8 152.8,135.8 153.6,137.5 154.5,140.0 155.3,137.5 156.1,132.5 156.6,129.2"/></g></svg><span class="c">(C) Daikoku Denki.</span></div><div class="t" style="left:632px;top:566px">台番:1031</div>
<div class="b" style="left:635px;top:584px"><svg width="200" height="250"><use href="#bg"/><g clip-path="url(#cp)"><polyline class="l1" points="49.5,118.5 50.3,120.1 50.9,124.2 51.6,130.8 52.6,135.8 53.6,140.8 54.6,145.8 55.6,150.7 56.6,154.9 57.4,158.2 58.2,147.4 58.7,139.1 59.6,144.1 60.4,150.7 61.2,155.7 62.1,150.7 62.9,142.5 63.7,138.3 64.5,142.5 65.4,147.4 66.2,152.4 67.0,157.4 67.9,162.4 68.5,168.2 69.2,160.7 70.0,154.9 70.9,155.7 71.5,164.0 72.3,159.0 73.2,150.7 74.0,142.5 74.8,134.2 75.7,125.9 76.5,115.9 77.3,118.4 78.2,122.5 79.0,117.6 79.8,106.0 80.6,94.4 81.5,81.1 82.3,67.8 83.1,54.5 84.0,41.3 84.5,37.1 85.1,40.4 86.1,45.4 87.3,51.2 88.1,54.5 88.9,61.2 89.8,66.2 90.8,71.1 91.8,76.1 92.4,81.1 93.1,67.8 93.7,62.8 94.4,65.3 95.2,62.8 96.1,69.5 97.2,74.4 98.4,77.8 99.4,82.7 100.4,89.4 101.4,96.0 102.4,102.6 103.4,111.8 104.4,106.0 105.4,96.0 106.4,84.4 107.2,71.1 108.0,59.5 108.8,52.9 109.7,50.4 110.5,54.5 111.7,61.2 113.0,67.8 114.3,76.1 115.5,86.1 116.6,92.7 118.0,99.3 119.0,106.8 120.0,108.5 120.9,109.3 121.9,112.6 122.9,119.2 123.8,125.9 124.6,130.8 125.4,137.5 126.3,142.5 127.1,138.3 127.9,137.5 128.7,127.5 129.6,114.3 130.4,118.4 131.2,124.2 132.6,130.8 133.7,137.5 134.5,141.6 135.4,144.9 136.2,142.5 137.0,147.4 137.5,151.6 138.2,144.1 139.2,130.8 140.0,119.2 140.7,116.7 141.5,120.9 142.5,125.9 143.2,131.7 144.0,126.7 144.8,122.5 145.7,125.9 146.5,130.8 147.5,137.5 148.6,142.5 149.5,146.6 150.3,137.5 151.1,127.5 152.0,120.9 152.8,122.5 153.6,121.7 154.5,124.2 155.3,129.2 155.6,133.3"/><polyline class="l2" points="49.5,118.5 50.3,120.1 50.9,124.2 51.6,130.8 52.6,135.8 53.6,140.8 54.6,145.8 55.6,150.7 56.6,154.9 57.4,158.2 58.2,147.4 58.7,139.1 59.6,144.1 60.4,150.7 61.2,155.7 62.1,150.7 62.9,142.5 63.7,138.3 64.5,142.5 65.4,147.4 66.2,152.4 67.0,157.4 67.9,162.4 68.5,168.2 69.2,160.7 70.0,154.9 70.9,155.7 71.5,164.0 72.3,159.0 73.2,150.7 74.0,142.5 74.8,134.2 75.7,125.9 76.5,115.9 77.3,118.4 78.2,122.5 79.0,117.6 79.8,106.0 80.6,94.4 81.5,81.1 82.3,67.8 83.1,54.5 84.0,41.3 84.5,37.1 85.1,40.4 86.1,45.4 87.3,51.2 88.1,54.5 88.9,61.2 89.8,66.2 90.8,71.1 91.8,76.1 92.4,81.1 93.1,67.8 93.7,62.8 94.4,65.3 95.2,62.8 96.1,69.5 97.2,74.4 98.4,77.8 99.4,82.7 100.4,89.4 101.4,96.0 102.4,102.6 103.4,111.8 104.4,106.0 105.4,96.0 106.4,84.4 107.2,71.1 108.0,59.5 108.8,52.9 109.7,50.4 110.5,54.5 111.7,61.2 113.0,67.8 114.3,76.1 115.5,86.1 116.6,92.7 118.0,99.3 119.0,106.8 120.0,108.5 120.9,109.3 121.9,112.6 122.9,119.2 123.8,125.9 124.6,130.8 125.4,137.5 126.3,142.5 127.1,138.3 127.9,137.5 128.7,127.5 129.6,114.3 130.4,118.4 131.2,124.2 132.6,130.8 133.7,137.5 134.5,141.6 135.4,144.9 136.2,142.5 137.0,147.4 137.5,151.6 138.2,144.1 139.2,130.8 140.0,119.2 140.7,116.7 141.5,120.9 142.5,125.9 143.2,131.7 144.0,126.7 144.8,122.5 145.7,125.9 146.5,130.8 147.5,137.5 148.6,142.5 149.5,146.6 150.3,137.5 151.1,127.5 152.0,120.9 152.8,122.5 153.6,121.7 154.5,124.2 155.3,129.2 155.6,133.3"/></g></svg><span class="c">(C) Daikoku Denki.</span></div><div class="t" style="left:2px;top:846px">台番:1032</div>
<div class="b" style="left:5px;top:864px"><svg width="200" height="250"><use href="#bg"/><g clip-path="url(#cp)"><polyline class="l1" points="49.5,118.5 50.3,120.9 50.9,125.9 51.6,128.4 52.3,125.9 52.9,122.5 53.6,110.9 54.3,99.3 54.8,94.4 55.4,97.7 56.1,102.6 56.9,107.6 57.6,104.3 58.2,109.3 58.9,106.0 59.6,103.5 60.2,101.0 60.9,106.0 61.9,110.9 62.9,115.9 64.1,120.9 65.2,125.9 66.2,130.8 67.0,135.8 67.5,140.8 68.2,127.5 69.0,132.5 69.9,137.5 70.9,142.5 71.8,147.4 72.8,154.1 73.8,159.0 74.8,164.0 75.5,167.3 76.2,157.4 76.8,147.4 77.5,137.5 78.2,127.5 78.8,122.5 79.5,127.5 80.3,134.2 81.1,139.1 82.1,144.1 83.1,148.3 84.1,151.6 85.0,149.1 85.8,152.4 86.8,159.0 87.8,164.0 88.8,169.0 89.8,174.0 90.8,179.8 91.6,185.6 92.4,177.3 93.1,167.3 93.9,154.1 94.7,140.8 95.6,127.5 96.4,114.3 97.2,101.0 97.7,96.8 98.6,97.7 99.4,97.7 100.2,101.0 101.0,109.3 102.0,114.3 103.0,117.6 103.9,122.5 104.7,127.5 105.7,132.5 106.7,137.5 107.5,140.0 108.3,134.2 109.3,125.9 110.2,130.8 111.0,135.8 111.8,135.0 112.7,138.3 113.5,144.1 114.3,149.1 115.0,144.1 115.6,137.5 116.3,132.5 117.1,137.5 118.0,140.8 118.6,134.2 119.3,125.9 120.0,114.3 120.6,107.6 121.3,97.7 121.9,84.4 122.4,73.6 122.9,74.4 123.8,79.4 124.6,84.4 125.6,91.0 126.6,96.0 127.6,101.0 128.6,106.0 129.6,110.9 130.4,115.9 131.2,117.6 132.1,112.6 132.9,117.6 133.7,107.6 134.5,94.4 135.0,86.1 135.7,88.5 136.5,93.5 137.4,97.7 138.2,102.6 139.2,109.3 140.2,115.9 141.2,120.9 142.2,127.5 143.2,134.2 144.2,140.8 145.2,147.4 146.2,152.4 147.0,154.9 147.8,149.9 148.6,145.8 149.5,150.7 150.3,154.1 151.1,147.4 152.0,146.6 152.8,151.6 153.8,156.6 154.8,162.4 155.6,165.7 156.1,160.7 156.9,159.0 157.8,162.4 158.8,167.3 159.8,172.3 160.4,176.5 161.1,178.1 161.6,173.1 161.9,165.7 162.7,165.7"/><polyline class="l2" points="49.5,118.5 50.3,120.9 50.9,125.9 51.6,128.4 52.3,125.9 52.9,122.5 53.6,110.9 54.3,99.3 54.8,94.4 55.4,97.7 56.1,102.6 56.9,107.6 57.6,104.3 58.2,109.3 58.9,106.0 59.6,103.5 60.2,101.0 60.9,106.0 61.9,110.9 62.9,115.9 64.1,120.9 65.2,125.9 66.2,130.8 67.0,135.8 67.5,140.8 68.2,127.5 69.0,132.5 69.9,137.5 70.9,142.5 71.8,147.4 72.8,154.1 73.8,159.0 74.8,164.0 75.5,167.3 76.2,157.4 76.8,147.4 77.5,137.5 78.2,127.5 78.8,122.5 79.5,127.5 80.3,134.2 81.1,139.1 82.1,144.1 83.1,148.3 84.1,151.6 85.0,149.1 85.8,152.4 86.8,159.0 87.8,164.0 88.8,169.0 89.8,174.0 90.8,179.8 91.6,185.6 92.4,177.3 93.1,167.3 93.9,154.1 94.7,140.8 95.6,127.5 96.4,114.3 97.2,101.0 97.7,96.8 98.6,97.7 99.4,97.7 100.2,101.0 101.0,109.3 102.0,114.3 103.0,117.6 103.9,122.5 104.7,127.5 105.7,132.5 106.7,137.5 107.5,140.0 108.3,134.2 109.3,125.9 110.2,130.8 111.0,135.8 111.8,135.0 112.7,138.3 113.5,144.1 114.3,149.1 115.0,144.1 115.6,137.5 116.3,132.5 117.1,137.5 118.0,140.8 118.6,134.2 119.3,125.9 120.0,114.3 120.6,107.6 121.3,97.7 121.9,84.4 122.4,73.6 122.9,74.4 123.8,79.4 124.6,84.4 125.6,91.0 126.6,96.0 127.6,101.0 128.6,106.0 129.6,110.9 130.4,115.9 131.2,117.6 132.1,112.6 132.9,117.6 133.7,107.6 134.5,94.4 135.0,86.1 135.7,88.5 136.5,93.5 137.4,97.7 138.2,102.6 139.2,109.3 140.2,115.9 141.2,120.9 142.2,127.5 143.2,134.2 144.2,140.8 145.2,147.4 146.2,152.4 147.0,154.9 147.8,149.9 148.6,145.8 149.5,150.7 150.3,154.1 151.1,147.4 152.0,146.6 152.8,151.6 153.8,156.6 154.8,162.4 155.6,165.7 156.1,160.7 156.9,159.0 157.8,162.4 158.8,167.3 159.8,172.3 160.4,176.5 161.1,178.1 161.6,173.1 161.9,165.7 162.7,165.7"/></g></svg><span class="c">(C) Daikoku Denki.</span></div><div class="t" style="left:212px;top:846px">台番:1033</div>
<div class="b" style="left:215px;top:864px"><svg width="200" height="250"><use href="#bg"/><g clip-path="url(#cp)"><polyline class="l1" points="49.5,118.5 50.3,115.9 51.3,111.8 52.3,107.6 53.3,103.5 54.1,104.3 55.3,107.6 56.6,110.9 57.9,113.4 59.1,115.1 59.9,112.6 60.9,108.5 61.9,105.1 62.6,103.5 63.6,106.0 64.5,109.3 65.7,111.8 66.9,111.8 67.9,112.6 68.9,113.4 69.5,109.3 70.2,106.0 70.9,103.5 71.5,97.7 72.3,92.7 73.2,87.7 74.0,82.7 74.8,80.3 75.7,81.1 76.5,81.9 77.3,81.1 78.2,80.3 79.1,78.6 80.1,77.8 81.1,76.1 81.8,72.8 82.5,67.8 83.1,62.8 83.8,57.9 84.5,54.5 85.1,51.2 85.8,47.9 86.4,43.8 87.1,39.6 87.8,34.6 88.4,30.0 89.1,18.0 142.8,21.4 144.5,30.5 146.2,32.6 147.8,30.5 149.5,21.4"/><polyline class="l2" points="49.5,118.5 50.3,115.9 51.3,111.8 52.3,107.6 53.3,103.5 54.1,104.3 55.3,107.6 56.6,110.9 57.9,113.4 59.1,115.1 59.9,112.6 60.9,108.5 61.9,105.1 62.6,103.5 63.6,106.0 64.5,109.3 65.7,111.8 66.9,111.8 67.9,112.6 68.9,113.4 69.5,109.3 70.2,106.0 70.9,103.5 71.5,97.7 72.3,92.7 73.2,87.7 74.0,82.7 74.8,80.3 75.7,81.1 76.5,81.9 77.3,81.1 78.2,80.3 79.1,78.6 80.1,77.8 81.1,76.1 81.8,72.8 82.5,67.8 83.1,62.8 83.8,57.9 84.5,54.5 85.1,51.2 85.8,47.9 86.4,43.8 87.1,39.6 87.8,34.6 88.4,30.0 89.1,18.0 142.8,21.4 144.5,30.5 146.2,32.6 147.8,30.5 149.5,21.4"/></g></svg><span class="c">(C) Daikoku Denki.</span></div><div class="t" style="left:422px;top:846px">台番:1035</div>
<div class="b" style="left:425px;top:864px"><svg width="200" height="250"><use href="#bg"/><g clip-path="url(#cp)"><polyline class="l1" points="49.5,118.5 50.3,117.6 51.3,112.6 51.9,110.9 52.9,113.4 53.9,115.9 54.6,114.3 55.8,107.6 56.6,104.3 57.4,102.6 58.2,104.3 59.6,106.8 60.7,109.3 61.9,111.8 63.2,114.3 64.1,116.7 64.9,119.2 65.7,116.7 66.5,115.1 67.4,115.9 68.2,118.4 69.5,122.5 70.7,125.9 71.8,128.4 73.2,131.7 74.5,135.0 75.7,137.5 76.8,140.0 77.8,142.5 78.6,143.3 79.5,140.8 80.3,134.2 81.1,127.5 82.0,120.9 82.8,114.3 84.0,107.6 85.1,101.0 86.4,94.4 87.8,87.7 88.9,81.1 90.1,74.4 91.4,67.8 92.7,61.2 93.9,54.5 95.1,47.9 96.1,42.9 96.9,40.4 97.7,38.8 98.4,39.6 99.1,38.0 99.7,34.6 100.4,31.6 100.9,30.0 101.5,21.4"/><polyline class="l2" points="49.5,118.5 50.3,117.6 51.3,112.6 51.9,110.9 52.9,113.4 53.9,115.9 54.6,114.3 55.8,107.6 56.6,104.3 57.4,102.6 58.2,104.3 59.6,106.8 60.7,109.3 61.9,111.8 63.2,114.3 64.1,116.7 64.9,119.2 65.7,116.7 66.5,115.1 67.4,115.9 68.2,118.4 69.5,122.5 70.7,125.9 71.8,128.4 73.2,131.7 74.5,135.0 75.7,137.5 76.8,140.0 77.8,142.5 78.6,143.3 79.5,140.8 80.3,134.2 81.1,127.5 82.0,120.9 82.8,114.3 84.0,107.6 85.1,101.0 86.4,94.4 87.8,87.7 88.9,81.1 90.1,74.4 91.4,67.8 92.7,61.2 93.9,54.5 95.1,47.9 96.1,42.9 96.9,40.4 97.7,38.8 98.4,39.6 99.1,38.0 99.7,34.6 100.4,31.6 100.9,30.0 101.5,21.4"/></g></svg><span class="c">(C) Daikoku Denki.</span></div><div class="t" style="left:632px;top:846px">台番:1036</div>
<div class="b" style="left:635px;top:864px"><svg width="200" height="250"><use href="#bg"/><g clip-path="url(#cp)"><polyline class="l1" points="49.5,118.5 50.3,120.1 50.9,122.5 51.6,114.3 52.4,113.4 53.3,115.1 54.1,112.6 54.9,111.8 55.8,110.9 56.6,115.9 57.4,119.2 58.2,122.5 59.1,125.9 59.9,128.4 60.7,124.2 61.6,115.9 62.1,114.3 62.9,118.4 64.1,124.2 65.2,129.2 66.5,134.2 67.9,139.1 69.0,144.1 70.2,148.3 71.5,151.6 72.5,155.7 73.2,157.4 73.8,150.7 74.5,151.6 75.5,154.1 76.5,159.0 77.5,164.0 78.5,169.0 79.5,173.1 80.5,176.5 81.1,178.1 81.8,174.0 82.8,166.5 83.6,165.7 84.5,168.2 85.3,170.7 86.1,164.0 86.9,155.7 87.8,147.4 88.6,140.8 89.4,137.5 90.3,140.8 91.4,145.8 92.7,151.6 94.1,156.6 95.4,161.5 96.4,164.8 97.2,165.7 98.1,159.0 99.1,150.7 100.0,144.1 100.7,143.3 101.5,146.6 102.5,151.6 103.5,157.4 104.7,163.2 105.7,164.8 106.4,159.0 107.2,149.9 107.7,147.4 108.7,150.7 109.7,154.1 110.7,159.0 111.7,163.2 112.7,165.7 113.3,159.0 114.0,155.7 115.0,159.0 116.0,160.7 117.0,165.7 118.0,170.7 119.0,175.6 120.0,179.8 120.9,183.1 121.6,184.8 122.6,177.3 123.6,170.7 124.6,164.8 125.4,166.5 126.3,170.7 127.3,174.0 128.2,178.1 129.2,180.6 130.2,181.4 131.2,182.3 132.2,187.2 133.2,190.6 134.2,193.9 135.2,197.2 136.2,202.2 136.9,204.7 137.5,200.5 138.2,199.7 138.9,201.3 139.5,203.8 140.2,205.5 140.9,202.2 141.5,195.5 142.2,185.6 142.8,177.3 143.7,172.3 144.5,169.0 145.3,170.7 146.2,174.0 147.0,165.7 147.8,157.4 148.8,149.1 149.8,142.5 150.8,135.8 151.6,129.2"/><polyline class="l2" points="49.5,118.5 50.3,120.1 50.9,122.5 51.6,114.3 52.4,113.4 53.3,115.1 54.1,112.6 54.9,111.8 55.8,110.9 56.6,115.9 57.4,119.2 58.2,122.5 59.1,125.9 59.9,128.4 60.7,124.2 61.6,115.9 62.1,114.3 62.9,118.4 64.1,124.2 65.2,129.2 66.5,134.2 67.9,139.1 69.0,144.1 70.2,148.3 71.5,151.6 72.5,155.7 73.2,157.4 73.8,150.7 74.5,151.6 75.5,154.1 76.5,159.0 77.5,164.0 78.5,169.0 79.5,173.1 80.5,176.5 81.1,178.1 81.8,174.0 82.8,166.5 83.6,165.7 84.5,168.2 85.3,170.7 86.1,164.0 86.9,155.7 87.8,147.4 88.6,140.8 89.4,137.5 90.3,140.8 91.4,145.8 92.7,151.6 94.1,156.6 95.4,161.5 96.4,164.8 97.2,165.7 98.1,159.0 99.1,150.7 100.0,144.1 100.7,143.3 101.5,146.6 102.5,151.6 103.5,157.4 104.7,163.2 105.7,164.8 106.4,159.0 107.2,149.9 107.7,147.4 108.7,150.7 109.7,154.1 110.7,159.0 111.7,163.2 112.7,165.7 113.3,159.0 114.0,155.7 115.0,159.0 116.0,160.7 117.0,165.7 118.0,170.7 119.0,175.6 120.0,179.8 120.9,183.1 121.6,184.8 122.6,177.3 123.6,170.7 124.6,164.8 125.4,166.5 126.3,170.7 127.3,174.0 128.2,178.1 129.2,180.6 130.2,181.4 131.2,182.3 132.2,187.2 133.2,190.6 134.2,193.9 135.2,197.2 136.2,202.2 136.9,204.7 137.5,200.5 138.2,199.7 138.9,201.3 139.5,203.8 140.2,205.5 140.9,202.2 141.5,195.5 142.2,185.6 142.8,177.3 143.7,172.3 144.5,169.0 145.3,170.7 146.2,174.0 147.0,165.7 147.8,157.4 148.8,149.1 149.8,142.5 150.8,135.8 151.6,129.2"/></g></svg><span class="c">(C) Daikoku Denki.</span></div><div class="t" style="left:2px;top:1125px">台番:1037</div>
<div class="b" style="left:5px;top:1143px"><svg width="200" height="250"><use href="#bg"/><g clip-path="url(#cp)"><polyline class="l1" points="49.5,118.5 50.0,121.9 50.6,125.2 51.3,128.5 51.9,131.0 52.6,126.9 53.3,118.6 54.1,111.9 54.6,110.3 55.3,112.8 56.1,116.9 56.9,122.7 57.7,128.5 58.6,133.5 59.4,138.5 60.2,145.1 60.9,147.6 61.6,143.5 62.2,138.5 62.9,141.8 63.7,146.8 64.5,151.7 65.4,156.7 66.2,161.7 67.0,165.0 67.9,168.3 68.7,170.8 69.4,172.5 70.0,168.3 70.9,161.7 71.5,155.1 72.2,156.7 72.8,155.1 73.7,150.1 74.3,148.4 75.2,151.7 76.0,156.7 76.8,161.7 77.7,165.0 78.5,167.5 79.1,163.4 79.8,165.0 80.6,168.3 81.5,173.3 82.3,179.1 83.1,175.0 84.0,165.0 84.8,155.1 85.6,145.1 86.4,139.3 87.3,143.5 88.1,150.1 88.9,156.7 89.8,161.7 90.6,166.7 91.4,170.0 92.3,163.4 93.1,151.7 93.9,141.8 94.7,136.8 95.6,140.1 96.4,145.1 97.2,151.7 98.1,158.4 98.9,163.4 99.7,167.5 100.5,158.4 101.4,148.4 102.2,138.5 103.0,131.8 103.7,129.4 104.4,133.5 105.0,140.1 105.7,143.5 106.4,150.1 107.0,141.8 107.7,135.2 108.3,131.8 109.0,128.5 109.7,126.9 110.3,131.8 111.0,125.2 111.7,124.4 112.3,126.9 113.0,128.5 113.6,131.8 114.3,135.2 115.0,138.5 115.6,143.5 116.3,146.8 117.1,150.9 118.0,145.1 118.8,135.2 119.6,125.2 120.3,118.6 120.9,107.0 121.6,100.3 122.3,102.0 122.9,107.0 123.6,111.1 124.3,108.6 125.1,102.0 125.9,98.7 126.6,102.0 127.3,105.3 127.9,103.6 128.6,106.1 129.2,108.6 129.9,109.5 130.9,107.0 131.9,100.3 132.9,92.0 133.7,87.1 134.5,90.4 135.4,97.0 136.2,103.6 137.0,108.6 137.9,110.3 138.7,100.3 139.5,83.7 140.2,75.4 140.9,70.5 141.5,73.8 142.2,78.8 142.8,83.7 143.7,88.7 144.5,93.7 145.3,97.8 146.2,92.0 147.0,82.1 147.8,72.1 148.6,63.8 149.5,65.5 150.3,70.5 151.1,75.4 152.1,80.4 153.1,85.4 153.8,90.4 154.5,85.4 155.1,77.1 155.8,65.5 156.4,53.9 156.8,45.6 157.4,43.1 158.1,42.3"/><polyline class="l2" points="49.5,118.5 50.0,121.9 50.6,125.2 51.3,128.5 51.9,131.0 52.6,126.9 53.3,118.6 54.1,111.9 54.6,110.3 55.3,112.8 56.1,116.9 56.9,122.7 57.7,128.5 58.6,133.5 59.4,138.5 60.2,145.1 60.9,147.6 61.6,143.5 62.2,138.5 62.9,141.8 63.7,146.8 64.5,151.7 65.4,156.7 66.2,161.7 67.0,165.0 67.9,168.3 68.7,170.8 69.4,172.5 70.0,168.3 70.9,161.7 71.5,155.1 72.2,156.7 72.8,155.1 73.7,150.1 74.3,148.4 75.2,151.7 76.0,156.7 76.8,161.7 77.7,165.0 78.5,167.5 79.1,163.4 79.8,165.0 80.6,168.3 81.5,173.3 82.3,179.1 83.1,175.0 84.0,165.0 84.8,155.1 85.6,145.1 86.4,139.3 87.3,143.5 88.1,150.1 88.9,156.7 89.8,161.7 90.6,166.7 91.4,170.0 92.3,163.4 93.1,151.7 93.9,141.8 94.7,136.8 95.6,140.1 96.4,145.1 97.2,151.7 98.1,158.4 98.9,163.4 99.7,167.5 100.5,158.4 101.4,148.4 102.2,138.5 103.0,131.8 103.7,129.4 104.4,133.5 105.0,140.1 105.7,143.5 106.4,150.1 107.0,141.8 107.7,135.2 108.3,131.8 109.0,128.5 109.7,126.9 110.3,131.8 111.0,125.2 111.7,124.4 112.3,126.9 113.0,128.5 113.6,131.8 114.3,135.2 115.0,138.5 115.6,143.5 116.3,146.8 117.1,150.9 118.0,145.1 118.8,135.2 119.6,125.2 120.3,118.6 120.9,107.0 121.6,100.3 122.3,102.0 122.9,107.0 123.6,111.1 124.3,108.6 125.1,102.0 125.9,98.7 126.6,102.0 127.3,105.3 127.9,103.6 128.6,106.1 129.2,108.6 129.9,109.5 130.9,107.0 131.9,100.3 132.9,92.0 133.7,87.1 134.5,90.4 135.4,97.0 136.2,103.6 137.0,108.6 137.9,110.3 138.7,100.3 139.5,83.7 140.2,75.4 140.9,70.5 141.5,73.8 142.2,78.8 142.8,83.7 143.7,88.7 144.5,93.7 145.3,97.8 146.2,92.0 147.0,82.1 147.8,72.1 148.6,63.8 149.5,65.5 150.3,70.5 151.1,75.4 152.1,80.4 153.1,85.4 153.8,90.4 154.5,85.4 155.1,77.1 155.8,65.5 156.4,53.9 156.8,45.6 157.4,43.1 158.1,42.3"/></g></svg><span class="c">(C) Daikoku Denki.</span></div><div class="t" style="left:212px;top:1125px">台番:1038</div>
<div class="b" style="left:215px;top:1143px"><svg width="200" height="250"><use href="#bg"/><g clip-path="url(#cp)"><polyline class="l1" points="49.5,118.5 50.0,120.1 50.6,117.6 51.3,114.3 51.9,110.9 52.6,107.6 53.3,104.3 54.1,101.8 54.9,101.8 55.8,103.5 56.6,106.0 57.6,108.5 58.6,110.9 59.6,113.4 60.2,114.3 60.9,110.9 61.6,108.5 62.4,107.6 63.2,109.3 64.2,111.8 65.2,114.3 66.2,116.7 67.0,119.2 67.9,120.1 68.5,118.4 69.2,114.3 69.9,111.8 70.7,110.9 71.5,109.3 72.3,110.9 73.2,112.6 73.8,114.3 74.5,110.1 75.2,106.0 75.8,101.0 76.5,96.0 77.2,92.7 77.8,89.4 78.5,87.7 79.1,85.2 79.8,82.7 80.6,80.3 81.5,79.4 82.3,81.9 83.1,83.6 84.0,82.7 84.8,83.6 85.6,82.7 86.4,81.9 87.3,82.7 88.1,84.4 88.9,82.7 89.8,81.1 90.6,78.6 91.4,74.4 92.3,71.1 93.1,70.3 93.9,70.3 94.7,69.5 95.6,67.0 96.4,66.2 97.2,68.6 98.1,70.3 98.9,66.2 99.7,61.2 100.5,58.7 101.4,59.5 102.2,61.2 103.0,63.7 103.9,67.0 104.7,65.3 105.5,62.8 106.4,62.0 107.2,63.7 108.0,65.3 108.8,67.0 109.7,67.0 110.5,67.8 111.3,69.5 112.3,72.0 113.3,73.6 114.3,76.1 115.3,78.6 116.0,80.3 116.6,78.6 117.6,75.3 118.6,72.0 119.6,71.1 120.6,72.8 121.6,75.3 122.4,76.9 123.3,74.4 124.1,72.8 124.9,72.0 125.9,70.3 126.6,69.5 127.4,71.1 128.2,73.6 129.1,71.1 129.9,68.6 130.9,67.8 131.6,68.6 132.2,65.3 132.9,61.2 133.7,57.0 134.5,53.7 135.4,51.2 136.2,50.4 137.0,52.9 137.9,51.2 138.7,47.9 139.5,43.8 140.0,38.0 140.5,31.3 141.0,21.4"/><polyline class="l2" points="49.5,118.5 50.0,120.1 50.6,117.6 51.3,114.3 51.9,110.9 52.6,107.6 53.3,104.3 54.1,101.8 54.9,101.8 55.8,103.5 56.6,106.0 57.6,108.5 58.6,110.9 59.6,113.4 60.2,114.3 60.9,110.9 61.6,108.5 62.4,107.6 63.2,109.3 64.2,111.8 65.2,114.3 66.2,116.7 67.0,119.2 67.9,120.1 68.5,118.4 69.2,114.3 69.9,111.8 70.7,110.9 71.5,109.3 72.3,110.9 73.2,112.6 73.8,114.3 74.5,110.1 75.2,106.0 75.8,101.0 76.5,96.0 77.2,92.7 77.8,89.4 78.5,87.7 79.1,85.2 79.8,82.7 80.6,80.3 81.5,79.4 82.3,81.9 83.1,83.6 84.0,82.7 84.8,83.6 85.6,82.7 86.4,81.9 87.3,82.7 88.1,84.4 88.9,82.7 89.8,81.1 90.6,78.6 91.4,74.4 92.3,71.1 93.1,70.3 93.9,70.3 94.7,69.5 95.6,67.0 96.4,66.2 97.2,68.6 98.1,70.3 98.9,66.2 99.7,61.2 100.5,58.7 101.4,59.5 102.2,61.2 103.0,63.7 103.9,67.0 104.7,65.3 105.5,62.8 106.4,62.0 107.2,63.7 108.0,65.3 108.8,67.0 109.7,67.0 110.5,67.8 111.3,69.5 112.3,72.0 113.3,73.6 114.3,76.1 115.3,78.6 116.0,80.3 116.6,78.6 117.6,75.3 118.6,72.0 119.6,71.1 120.6,72.8 121.6,75.3 122.4,76.9 123.3,74.4 124.1,72.8 124.9,72.0 125.9,70.3 126.6,69.5 127.4,71.1 128.2,73.6 129.1,71.1 129.9,68.6 130.9,67.8 131.6,68.6 132.2,65.3 132.9,61.2 133.7,57.0 134.5,53.7 135.4,51.2 136.2,50.4 137.0,52.9 137.9,51.2 138.7,47.9 139.5,43.8 140.0,38.0 140.5,31.3 141.0,21.4"/></g></svg><span class="c">(C) Daikoku Denki.</span></div><div class="t" style="left:422px;top:1125px">台番:1050</div>
<div class="b" style="left:425px;top:1143px"><svg width="200" height="250"><use href="#bg"/><g clip-path="url(#cp)"><polyline class="l1" points="49.5,118.5 50.0,120.9 50.6,123.4 51.6,124.2 52.4,125.0 53.3,127.5 54.3,130.8 55.3,135.0 56.1,139.1 56.9,142.5 57.9,146.6 58.9,150.7 59.9,154.9 60.7,158.2 61.6,160.7 62.4,154.1 63.2,150.7 64.1,152.4 64.9,155.7 65.7,159.0 66.5,154.1 67.4,147.4 68.2,144.1 69.0,142.5 69.9,141.6 70.7,145.8 71.5,150.7 72.3,154.1 73.2,150.7 74.0,147.4 74.8,143.3 75.7,140.8 76.5,137.5 77.3,138.3 78.2,136.6 79.0,134.2 79.8,132.5 80.6,131.7 81.5,134.2 82.3,137.5 83.1,138.3 84.0,140.8 84.8,142.5 85.6,144.9 86.4,143.3 87.3,142.5 88.1,139.1 88.9,135.8 89.8,133.3 90.6,135.8 91.4,140.8 92.4,144.9 93.4,149.1 94.4,153.2 95.4,157.4 96.4,161.5 97.4,165.7 98.4,169.0 99.4,172.3 100.2,170.7 101.0,167.3 101.9,164.0 102.7,160.7 103.5,163.2 104.4,167.3 105.2,170.7 106.0,174.0 107.0,177.3 108.0,180.6 108.8,179.8 109.7,176.5 110.5,174.0 111.3,170.7 112.2,165.7 113.0,161.5 113.6,159.0 114.3,161.5 115.0,164.0 115.8,166.5 116.6,169.0 117.5,172.3 118.3,168.2 119.1,170.7 120.0,173.1 120.8,175.6 121.6,180.6 122.4,184.8 123.3,188.1 124.1,190.6 124.9,193.0 125.8,193.9 126.6,191.4 127.4,193.0 128.2,195.5 129.1,197.2 129.9,192.2 130.7,188.1 131.6,184.8 132.4,186.4 133.2,189.7 134.1,188.9 134.9,191.4 135.5,193.9 136.2,188.9 137.0,184.8 137.9,181.4 138.7,179.8 139.5,178.1 140.4,178.9 141.2,179.8 142.0,183.1 142.8,187.2 143.7,189.7 144.5,191.4 145.3,190.6 146.2,193.9 147.0,197.2 147.8,199.7 148.6,202.2 149.5,204.7 150.3,200.5 151.1,197.2 152.0,195.5 152.8,198.0 153.6,201.3"/><polyline class="l2" points="49.5,118.5 50.0,120.9 50.6,123.4 51.6,124.2 52.4,125.0 53.3,127.5 54.3,130.8 55.3,135.0 56.1,139.1 56.9,142.5 57.9,146.6 58.9,150.7 59.9,154.9 60.7,158.2 61.6,160.7 62.4,154.1 63.2,150.7 64.1,152.4 64.9,155.7 65.7,159.0 66.5,154.1 67.4,147.4 68.2,144.1 69.0,142.5 69.9,141.6 70.7,145.8 71.5,150.7 72.3,154.1 73.2,150.7 74.0,147.4 74.8,143.3 75.7,140.8 76.5,137.5 77.3,138.3 78.2,136.6 79.0,134.2 79.8,132.5 80.6,131.7 81.5,134.2 82.3,137.5 83.1,138.3 84.0,140.8 84.8,142.5 85.6,144.9 86.4,143.3 87.3,142.5 88.1,139.1 88.9,135.8 89.8,133.3 90.6,135.8 91.4,140.8 92.4,144.9 93.4,149.1 94.4,153.2 95.4,157.4 96.4,161.5 97.4,165.7 98.4,169.0 99.4,172.3 100.2,170.7 101.0,167.3 101.9,164.0 102.7,160.7 103.5,163.2 104.4,167.3 105.2,170.7 106.0,174.0 107.0,177.3 108.0,180.6 108.8,179.8 109.7,176.5 110.5,174.0 111.3,170.7 112.2,165.7 113.0,161.5 113.6,159.0 114.3,161.5 115.0,164.0 115.8,166.5 116.6,169.0 117.5,172.3 118.3,168.2 119.1,170.7 120.0,173.1 120.8,175.6 121.6,180.6 122.4,184.8 123.3,188.1 124.1,190.6 124.9,193.0 125.8,193.9 126.6,191.4 127.4,193.0 128.2,195.5 129.1,197.2 129.9,192.2 130.7,188.1 131.6,184.8 132.4,186.4 133.2,189.7 134.1,188.9 134.9,191.4 135.5,193.9 136.2,188.9 137.0,184.8 137.9,181.4 138.7,179.8 139.5,178.1 140.4,178.9 141.2,179.8 142.0,183.1 142.8,187.2 143.7,189.7 144.5,191.4 145.3,190.6 146.2,193.9 147.0,197.2 147.8,199.7 148.6,202.2 149.5,204.7 150.3,200.5 151.1,197.2 152.0,195.5 152.8,198.0 153.6,201.3"/></g></svg><span class="c">(C) Daikoku Denki.</span></div>
</body></html>
